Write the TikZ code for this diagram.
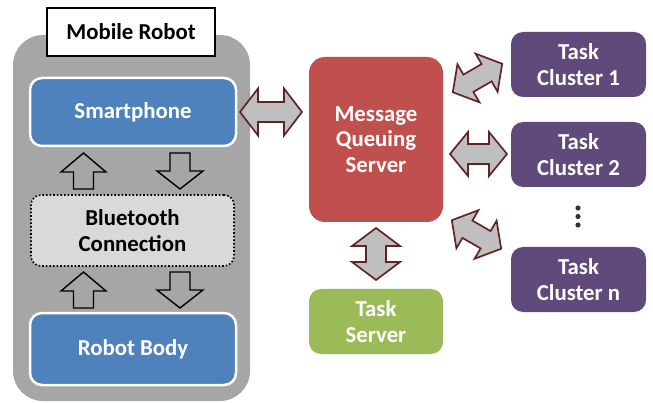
\documentclass[tikz,border=0pt]{standalone}
\usepackage{fontspec}
\setmainfont{Carlito}
\definecolor{robotgray}{HTML}{A6A6A6}
\definecolor{phoneblue}{HTML}{4F81BD}
\definecolor{btgray}{HTML}{D9D9D9}
\definecolor{mqred}{HTML}{C0504D}
\definecolor{clpurple}{HTML}{604A7B}
\definecolor{tsgreen}{HTML}{9BBB59}
\definecolor{arrowfill}{HTML}{BFBFBF}
\definecolor{arrowline}{HTML}{632523}
\newcommand\DblArrow[4]{% center, angle, length, head width
  \draw[dblarr, shift={#1}, rotate=#2]
    ({-#3/2},0) -- ({-#3/2+18},{-#4/2}) -- ({-#3/2+18},-10) -- ({#3/2-18},-10)
    -- ({#3/2-18},{-#4/2}) -- ({#3/2},0) -- ({#3/2-18},{#4/2}) -- ({#3/2-18},10)
    -- ({-#3/2+18},10) -- ({-#3/2+18},{#4/2}) -- cycle;}
\newcommand\UpArr[2]{% center x, top y
  \draw[blkarr] (#1,#2) -- ({#1+22.5},{#2+19}) -- ({#1+10},{#2+19}) -- ({#1+10},{#2+36})
    -- ({#1-10},{#2+36}) -- ({#1-10},{#2+19}) -- ({#1-22.5},{#2+19}) -- cycle;}
\newcommand\DownArr[2]{% center x, top y
  \draw[blkarr] ({#1-10},#2) -- ({#1+10},#2) -- ({#1+10},{#2+18}) -- ({#1+23},{#2+18})
    -- (#1,{#2+36}) -- ({#1-23},{#2+18}) -- ({#1-10},{#2+18}) -- cycle;}
\begin{document}
\begin{tikzpicture}[x=1pt,y=-1pt,
  every node/.style={font=\fontsize{22.8}{25.5}\selectfont\bfseries, align=center, inner sep=0pt},
  box/.style={rectangle, rounded corners=12pt, text=white},
  blue box/.style={box, fill=phoneblue, draw=white, line width=2.5pt, minimum width=206pt, minimum height=68pt},
  cluster/.style={box, fill=clpurple, minimum width=135pt, minimum height=65pt},
  dblarr/.style={fill=arrowfill, draw=arrowline, line width=1.7pt, line join=miter},
  blkarr/.style={fill=robotgray, draw=black, line width=1.4pt, line join=miter}]
\useasboundingbox (0,0) rectangle (653,403);
\node[rectangle, rounded corners=30pt, fill=robotgray, minimum width=237pt, minimum height=366pt] (robot) at (131.5,218) {};
\node[rectangle, fill=white, draw=black, line width=1.5pt, minimum width=168pt, minimum height=48pt] (label) at (131,32) {Mobile Robot};
\node[blue box] (phone) at (133,112) {Smartphone};
\node[rectangle, rounded corners=10pt, fill=btgray, draw=black, dotted, line width=1.6pt, minimum width=203pt, minimum height=71pt] (bt) at (132.5,230.5) {Bluetooth\\Connection};
\node[blue box, minimum height=72pt] (body) at (133,349) {Robot Body};
\node[box, rounded corners=16pt, fill=mqred, minimum width=134pt, minimum height=165pt] (mq) at (376,139.5) {Message\\Queuing\\Server};
\node[box, fill=tsgreen, minimum width=134pt, minimum height=65pt] (ts) at (376,321.5) {Task\\Server};
\node[cluster] (c1) at (578.5,64.5) {Task\\Cluster 1};
\node[cluster] (c2) at (578.5,154.5) {Task\\Cluster 2};
\node[cluster] (cn) at (578.5,279.5) {Task\\Cluster n};
\foreach \yy in {208,216.5,225} \fill[black!80] (578,\yy) circle (2.6pt);
\UpArr{83.5}{153}
\DownArr{180}{153}
\UpArr{83.5}{272}
\DownArr{180}{272}
\DblArrow{(271,112)}{0}{62}{47}
\DblArrow{(477.5,78)}{30}{57}{44}
\DblArrow{(478.5,154)}{0}{57}{44}
\DblArrow{(476.5,234.5)}{-30}{57}{44}
\DblArrow{(376,254)}{90}{52}{48}
\end{tikzpicture}
\end{document}
